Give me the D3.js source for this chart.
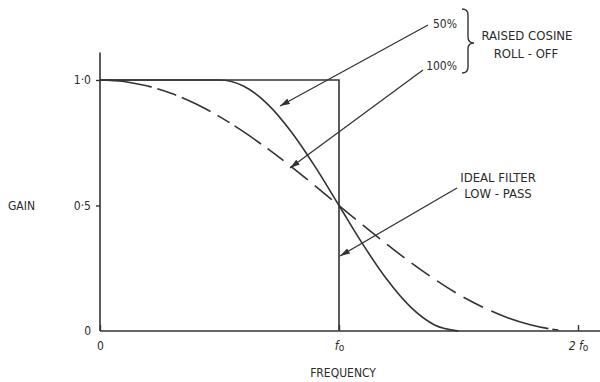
<!DOCTYPE html>
<html><head><meta charset="utf-8">
<script src="https://cdn.jsdelivr.net/npm/d3@7"></script>
<style>
html,body{margin:0;padding:0;background:#fff;}
text{font-family:"Liberation Sans Narrow","DejaVu Sans Condensed","Roboto Condensed",sans-serif;fill:#2b2b2b;}
</style></head>
<body>
<svg id="chart" width="600" height="382"></svg>
<script>
// ---- data ----
const idealFreq = [0, 1, 1];
const idealGain = [1, 1, 0];

const rc50Freq = [0, 0.5, 0.6, 0.7, 0.8, 0.9, 1.0, 1.1, 1.2, 1.3, 1.4, 1.5];
const rc50Gain = [1, 1, 0.976, 0.905, 0.794, 0.655, 0.5, 0.345, 0.206, 0.095, 0.024, 0];

const rc100Freq = [0, 0.1, 0.2, 0.3, 0.4, 0.5, 0.6, 0.7, 0.8, 0.9, 1.0, 1.1, 1.2, 1.3, 1.4, 1.5, 1.6, 1.7, 1.8, 1.9, 2.0];
const rc100Gain = [1, 0.994, 0.976, 0.946, 0.905, 0.854, 0.794, 0.727, 0.655, 0.578, 0.5, 0.422, 0.346, 0.273, 0.206, 0.146, 0.096, 0.055, 0.025, 0.006, 0];

const yTicks = [0, 0.5, 1];
const yTickLabels = ["0", "0·5", "1·0"];
const xTicks = [0, 1, 2];
const xTickLabels = [["0", ""], ["f", "o"], ["2 f", "o"]];

// ---- drawing ----
const svg = d3.select("#chart");
const x = d3.scaleLinear().domain([0, 2]).range([100, 578]);
const y = d3.scaleLinear().domain([0, 1]).range([331, 80]);
const ink = "#333";

const defs = svg.append("defs");
defs.append("marker").attr("id", "ah").attr("viewBox", "0 0 10 6")
  .attr("refX", 10).attr("refY", 3).attr("markerWidth", 10).attr("markerHeight", 6)
  .attr("markerUnits", "userSpaceOnUse").attr("orient", "auto")
  .append("path").attr("d", "M0,0 L10,3 L0,6 Z").attr("fill", ink);

// axes lines
svg.append("line").attr("x1", x(0)).attr("x2", x(0)).attr("y1", y(0)).attr("y2", y(1.11))
  .attr("stroke", ink).attr("stroke-width", 1.6);
svg.append("line").attr("x1", x(0)).attr("x2", x(2.1)).attr("y1", y(0)).attr("y2", y(0))
  .attr("stroke", ink).attr("stroke-width", 1.6);

// y axis ticks
const yAxis = d3.axisLeft(y).tickValues(yTicks).tickSizeInner(4).tickSizeOuter(0)
  .tickPadding(5).tickFormat((d, i) => yTickLabels[i]);
const gy = svg.append("g").attr("transform", `translate(${x(0)},0)`).call(yAxis);
gy.select(".domain").remove();
gy.selectAll("line").attr("stroke", ink).attr("stroke-width", 1.4);
gy.selectAll("text").style("font-size", "12px").attr("fill", "#2b2b2b");
gy.selectAll(".tick").filter(d => d === 0).select("line").remove();

// x axis ticks
const xAxis = d3.axisBottom(x).tickValues(xTicks).tickSizeInner(-6).tickSizeOuter(0)
  .tickPadding(10).tickFormat(() => "");
const gx = svg.append("g").attr("transform", `translate(0,${y(0)})`).call(xAxis);
gx.select(".domain").remove();
gx.selectAll("line").attr("stroke", ink).attr("stroke-width", 1.4);
gx.selectAll(".tick text").each(function(d, i) {
  const t = d3.select(this).style("font-size", "12px").attr("fill", "#2b2b2b");
  t.append("tspan").text(xTickLabels[i][0]).style("font-style", i ? "italic" : "normal");
  if (xTickLabels[i][1]) t.append("tspan").text(xTickLabels[i][1]).style("font-size", "10px").attr("dy", 1);
});

// axis titles
svg.append("text").attr("x", 8).attr("y", 210).style("font-size", "12px").text("GAIN");
svg.append("text").attr("x", 343).attr("y", 377).attr("text-anchor", "middle").style("font-size", "12px").text("FREQUENCY");

const line = d3.line().x(d => x(d[0])).y(d => y(d[1])).curve(d3.curveMonotoneX);
const lineLin = d3.line().x(d => x(d[0])).y(d => y(d[1]));

// ideal filter
svg.append("path").datum(idealFreq.map((f, i) => [f, idealGain[i]]))
  .attr("d", lineLin).attr("fill", "none").attr("stroke", ink).attr("stroke-width", 1.6);

// 50% roll-off
svg.append("path").datum(rc50Freq.map((f, i) => [f, rc50Gain[i]]))
  .attr("d", line).attr("fill", "none").attr("stroke", ink).attr("stroke-width", 1.6);

// 100% roll-off (solid start, then dashed)
const rc100 = rc100Freq.map((f, i) => [f, rc100Gain[i]]);
svg.append("path").datum(rc100.filter(d => d[0] <= 0.2))
  .attr("d", line).attr("fill", "none").attr("stroke", ink).attr("stroke-width", 1.6);
svg.append("path").datum(rc100.filter(d => d[0] >= 0.2))
  .attr("d", line).attr("fill", "none").attr("stroke", ink).attr("stroke-width", 1.6)
  .attr("stroke-dasharray", "4,6,20,6,32,8,14,6,32,8,20,9,22,9,22,9,22,9,22,9,22,9,22,9,22,9,22,9,60");

// annotation arrows
const arrows = [
  {from: [428, 25], to: [280, 106]},
  {from: [423, 70], to: [290, 168]},
  {from: [457, 188], to: [340, 256]}
];
svg.selectAll(".arrow").data(arrows).enter().append("line")
  .attr("x1", d => d.from[0]).attr("y1", d => d.from[1])
  .attr("x2", d => d.to[0]).attr("y2", d => d.to[1])
  .attr("stroke", ink).attr("stroke-width", 1.3).attr("marker-end", "url(#ah)");

// labels
svg.append("text").attr("x", 457).attr("y", 28).attr("text-anchor", "end").style("font-size", "12px").text("50%");
svg.append("text").attr("x", 457).attr("y", 70).attr("text-anchor", "end").style("font-size", "12px").text("100%");
svg.append("path").attr("d", "M462,9 Q468,9 468,15 L468,37 Q468,43 474,43 Q468,43 468,49 L468,67 Q468,73 462,73")
  .attr("fill", "none").attr("stroke", ink).attr("stroke-width", 1.4);
svg.append("text").attr("x", 527).attr("y", 40).attr("text-anchor", "middle").style("font-size", "13px").text("RAISED COSINE");
svg.append("text").attr("x", 526).attr("y", 58).attr("text-anchor", "middle").style("font-size", "13px").text("ROLL - OFF");
svg.append("text").attr("x", 498).attr("y", 182).attr("text-anchor", "middle").style("font-size", "13px").text("IDEAL FILTER");
svg.append("text").attr("x", 498).attr("y", 198).attr("text-anchor", "middle").style("font-size", "13px").text("LOW - PASS");
</script>
</body></html>
